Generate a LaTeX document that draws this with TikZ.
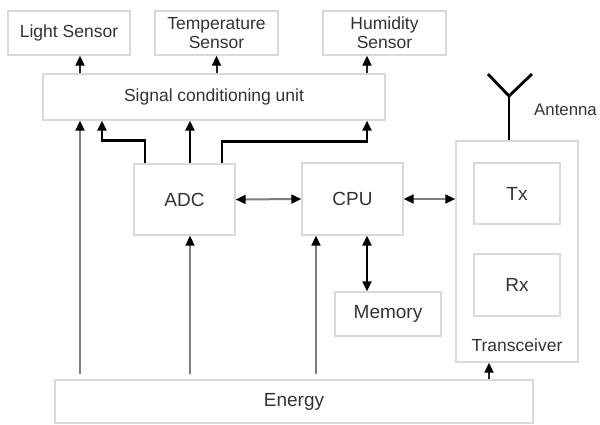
\documentclass[tikz,border=0pt]{standalone}
\usepackage{fontspec}
\setmainfont{Liberation Sans}
\usetikzlibrary{arrows.meta}
\definecolor{boxc}{HTML}{D9D9D9}
\definecolor{txtc}{HTML}{333333}
\definecolor{grayline}{HTML}{7F7F7F}
\tikzset{
  blk/.style={draw=boxc, line width=1.4pt, fill=white, text=txtc, inner sep=0pt, align=center,
              font=\fontsize{17.5}{19}\selectfont},
  bigt/.style={font=\fontsize{19}{21}\selectfont},
  tip/.style={-{Triangle[length=10pt,width=9pt,color=black]}},
  dtip/.style={{Triangle[length=10pt,width=9pt,color=black]}-{Triangle[length=10pt,width=9pt,color=black]}},
  sline/.style={line width=2pt, draw=black!85},
  thk/.style={line width=2.8pt, draw=black},
  gline/.style={line width=2pt, draw=grayline},
  lbl/.style={text=txtc, inner sep=0pt, font=\fontsize{17.5}{19}\selectfont},
}
\begin{document}
\begin{tikzpicture}[x=1pt,y=-1pt]
\useasboundingbox (0,0) rectangle (600,424);
\fill[white] (0,0) rectangle (600,424);
% boxes
\node[blk, minimum width=122pt, minimum height=44pt] (light) at (69,33) {Light Sensor};
\node[blk, minimum width=123pt, minimum height=44pt] (temp) at (216.5,33) {Temperature\\Sensor};
\node[blk, minimum width=123pt, minimum height=44pt] (hum) at (384.5,33) {Humidity\\Sensor};
\node[blk, minimum width=342pt, minimum height=46pt] (scu) at (214,97) {Signal conditioning unit};
\node[blk, bigt, minimum width=101pt, minimum height=71pt] (adc) at (184.5,199.5) {ADC};
\node[blk, bigt, minimum width=101pt, minimum height=72pt] (cpu) at (352.5,199) {CPU};
\node[blk, minimum width=122pt, minimum height=221pt] (trans) at (517,251.5) {};
\node[blk, bigt, minimum width=86pt, minimum height=61pt] (tx) at (517,193.5) {Tx};
\node[blk, bigt, minimum width=86pt, minimum height=62pt] (rx) at (517,285) {Rx};
\node[lbl] (translbl) at (517,345) {Transceiver};
\node[blk, bigt, minimum width=106pt, minimum height=44pt] (mem) at (388,314) {Memory};
\node[blk, bigt, minimum width=478pt, minimum height=43pt] (energy) at (294,401.5) {Energy};
% helper coordinates
\coordinate (cA) at (80,0);
\coordinate (cB) at (102,0);
\coordinate (cD) at (190,0);
\coordinate (cC) at (367,0);
\coordinate (cE) at (316,0);
\coordinate (cF) at (489,0);
\coordinate (cL) at (145,0);
\coordinate (cR) at (222,0);
\coordinate (ant) at (509,96);
\coordinate (armL) at (488,74);
\coordinate (armR) at (532,74);
\node[lbl, anchor=west, font=\fontsize{16.8}{19}\selectfont] (antlbl) at (534,110) {Antenna};
% SCU to sensors
\draw[sline, tip] (scu.north -| cA) -- (light.south -| cA);
\draw[sline, tip] (scu.north -| temp.south) -- (temp.south);
\draw[sline, tip] (scu.north -| cC) -- (hum.south -| cC);
% ADC to SCU
\draw[thk, tip] (adc.north -| cL) -- ++(0,-23) -| (scu.south -| cB);
\draw[thk, tip] (adc.north -| cD) -- (scu.south -| cD);
\draw[thk, tip] (adc.north -| cR) -- ++(0,-22) -| (scu.south -| cC);
% energy lines
\draw[gline, tip, shorten <=5pt] (energy.north -| cA) -- (scu.south -| cA);
\draw[gline, tip, shorten <=5pt] (energy.north -| cD) -- (adc.south -| cD);
\draw[gline, tip, shorten <=5pt] (energy.north -| cE) -- (cpu.south -| cE);
\draw[sline, tip] (energy.north -| cF) -- (trans.south -| cF);
% data arrows
\draw[gline, dtip] (adc.east) -- (cpu.west);
\draw[gline, dtip] (cpu.east) -- (trans.west |- cpu.east);
\draw[thk, dtip] (cpu.south -| cC) -- (mem.north -| cC);
% antenna
\draw[thk] (trans.north -| ant) -- (ant);
\draw[thk] (armL) -- (ant) -- (armR);
\end{tikzpicture}
\end{document}
